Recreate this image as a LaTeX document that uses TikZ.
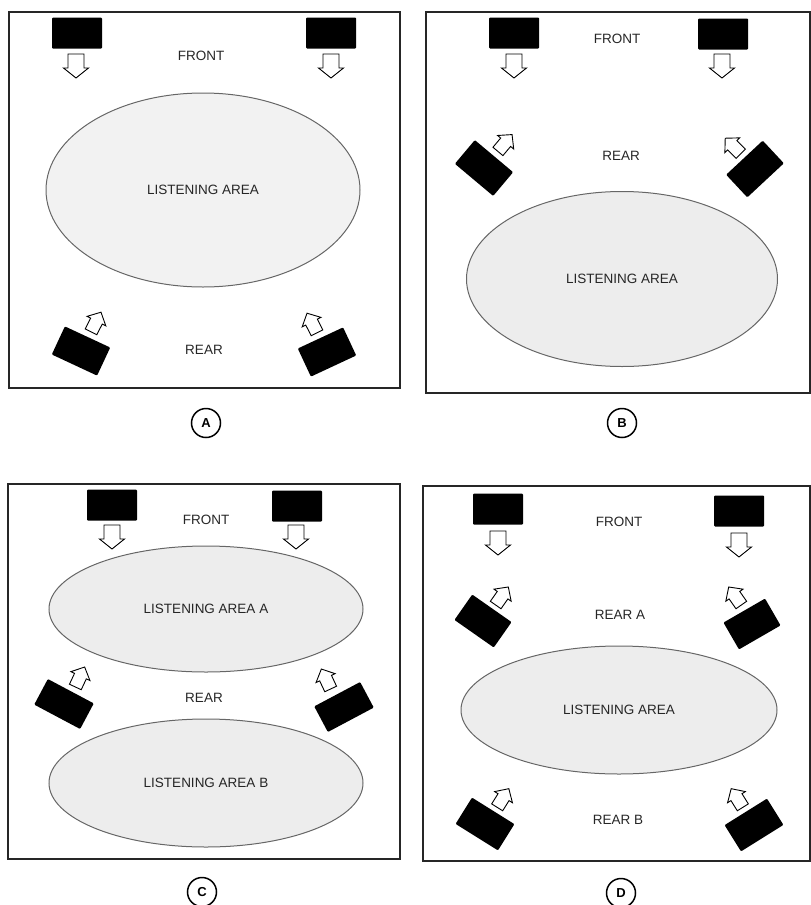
\documentclass[tikz,border=0pt]{standalone}
\usepackage{fontspec}
\setmainfont{Liberation Sans}
\usetikzlibrary{shapes.geometric}
\tikzset{
  panelframe/.style={draw=black!85, line width=2pt},
  area/.style={ellipse, draw=black!60, line width=1pt, fill=black!7, inner sep=0pt,
     font=\fontsize{13.5}{16}\selectfont, text=black!85},
  spk/.style={rectangle, fill=black, minimum width=50pt, minimum height=31pt, inner sep=0pt, rounded corners=1pt},
  lbl/.style={font=\fontsize{13.5}{16}\selectfont, text=black!85},
  tag/.style={circle, draw, line width=1.5pt, minimum size=29pt, inner sep=0pt,
     font=\bfseries\fontsize{13}{15}\selectfont},
  downarrow/.pic={\draw[line width=0.9pt, fill=white, line join=miter]
     (-8,-12) -- (8,-12) -- (8,2) -- (12.5,2) -- (0,12) -- (-12.5,2) -- (-8,2) -- cycle;},
  tiltarrow/.pic={\draw[line width=0.9pt, fill=white, line join=miter]
     (-6.5,-11) -- (6.5,-11) -- (6.5,1) -- (10.5,1) -- (0,11) -- (-10.5,1) -- (-6.5,1) -- cycle;}
}
\begin{document}
\begin{tikzpicture}[x=1pt, y=-1pt]
\useasboundingbox (0,0) rectangle (811,905);

% ---------- Panel A ----------
\draw[panelframe] (9,12) rectangle (400,388);
\node[spk] (a1) at (77,33) {};
\node[spk] (a2) at (331,33) {};
\pic (aa1) at (76,66) {downarrow};
\pic (aa2) at (331,66) {downarrow};
\node[lbl] (afront) at (201,56) {FRONT};
\node[area, fill=black!5, minimum width=314pt, minimum height=194pt] (alist) at (203,190) {LISTENING AREA};
\node[lbl] (arear) at (204,350) {REAR};
\node[spk, rotate=-25] (a3) at (81,351) {};
\node[spk, rotate=25] (a4) at (327,352) {};
\pic[rotate=153] (aa3) at (96,322) {tiltarrow};
\pic[rotate=207] (aa4) at (312,323) {tiltarrow};
\node[tag] (ta) at (206,423) {A};

% ---------- Panel B ----------
\draw[panelframe] (426,12) rectangle (810,393);
\node[spk] (b1) at (514,33) {};
\node[spk] (b2) at (723,34) {};
\pic (ba1) at (514,66) {downarrow};
\pic (ba2) at (722,66) {downarrow};
\node[lbl] (bfront) at (617,39) {FRONT};
\node[lbl] (brear) at (621,156) {REAR};
\node[spk, rotate=-40] (b3) at (484,168) {};
\node[spk, rotate=43] (b4) at (755,169) {};
\pic[rotate=140] (ba3) at (505,143) {tiltarrow};
\pic[rotate=225] (ba4) at (733,146) {tiltarrow};
\node[area, minimum width=311pt, minimum height=175pt] (blist) at (622,279) {LISTENING AREA};
\node[tag] (tb) at (622,423) {B};

% ---------- Panel C ----------
\draw[panelframe] (8,484) rectangle (400,859);
\node[spk] (c1) at (112,505) {};
\node[spk] (c2) at (297,506) {};
\pic (ca1) at (112,537) {downarrow};
\pic (ca2) at (296,537) {downarrow};
\node[lbl] (cfront) at (206,520) {FRONT};
\node[area, minimum width=314pt, minimum height=126pt] (clista) at (206,609) {LISTENING AREA A};
\node[lbl] (crear) at (204,698) {REAR};
\node[spk, rotate=-28, minimum width=52pt, minimum height=29pt] (c3) at (64,704) {};
\node[spk, rotate=28, minimum width=52pt, minimum height=29pt] (c4) at (344,707) {};
\pic[rotate=155] (ca3) at (80,677) {tiltarrow};
\pic[rotate=205] (ca4) at (326,679) {tiltarrow};
\node[area, minimum width=314pt, minimum height=128pt] (clistb) at (206,783) {LISTENING AREA B};
\node[tag] (tc) at (202,892) {C};

% ---------- Panel D ----------
\draw[panelframe] (423,486) rectangle (810,861);
\node[spk] (d1) at (498,509) {};
\node[spk] (d2) at (739,511) {};
\pic (da1) at (498,543) {downarrow};
\pic (da2) at (739,545) {downarrow};
\node[lbl] (dfront) at (619,522) {FRONT};
\node[spk, rotate=-35, minimum width=48pt] (d3) at (483,621) {};
\node[spk, rotate=30, minimum width=48pt] (d4) at (752,624) {};
\pic[rotate=145] (da3) at (502,596) {tiltarrow};
\pic[rotate=215] (da4) at (735,596) {tiltarrow};
\node[lbl] (dreara) at (620,615) {REAR A};
\node[area, minimum width=316pt, minimum height=128pt] (dlist) at (619,710) {LISTENING AREA};
\node[spk, rotate=-32] (d5) at (485,824) {};
\node[spk, rotate=32] (d6) at (754,825) {};
\pic[rotate=148] (da5) at (503,798) {tiltarrow};
\pic[rotate=212] (da6) at (737,798) {tiltarrow};
\node[lbl] (drearb) at (618,820) {REAR B};
\node[tag] (td) at (621,893) {D};
\end{tikzpicture}
\end{document}
